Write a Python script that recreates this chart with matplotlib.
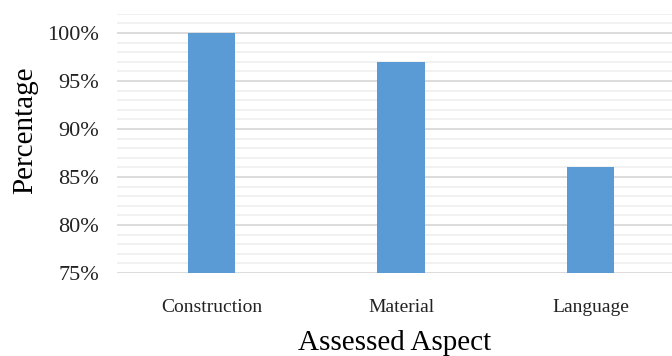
import matplotlib.pyplot as plt
from matplotlib.ticker import MultipleLocator, FuncFormatter

aspects = ['Construction', 'Material', 'Language']
percentages = [100, 97, 86]

fig = plt.figure(figsize=(6.72, 3.56), dpi=100)
ax = fig.add_axes([0.174, 0.233, 0.826, 0.728])

x = range(len(aspects))
ax.bar(x, [p - 75 for p in percentages], bottom=75, width=0.25, color='#5b9bd5', zorder=3)

ax.set_ylim(75, 102)
ax.set_xlim(-0.5, 2.43)
ax.yaxis.set_major_locator(MultipleLocator(5))
ax.yaxis.set_minor_locator(MultipleLocator(1))
ax.yaxis.set_major_formatter(FuncFormatter(lambda v, p: f'{v:.0f}%'))
ax.grid(True, axis='y', which='major', color='#d9d9d9', linewidth=1.3, zorder=0)
ax.grid(True, axis='y', which='minor', color='#f0f0f0', linewidth=1.3, zorder=0)

ax.set_xticks(list(x))
ax.set_xticklabels(aspects, fontfamily='Liberation Serif', fontsize=14, color='#222222')
for s in ax.spines.values():
    s.set_visible(False)
ax.tick_params(axis='both', which='both', length=0)
ax.tick_params(axis='y', labelsize=16, pad=13)
ax.tick_params(axis='x', pad=19)
for lab in ax.get_yticklabels():
    lab.set_fontfamily('Liberation Serif')
    lab.set_color('#222222')

ax.set_ylabel('Percentage', fontfamily='Liberation Serif', fontsize=21)
ax.set_xlabel('Assessed Aspect', fontfamily='Liberation Serif', fontsize=21)
ax.yaxis.set_label_coords(-0.142, 0.55)
ax.xaxis.set_label_coords(0.5, -0.218)

fig.savefig('out.png', dpi=100)
